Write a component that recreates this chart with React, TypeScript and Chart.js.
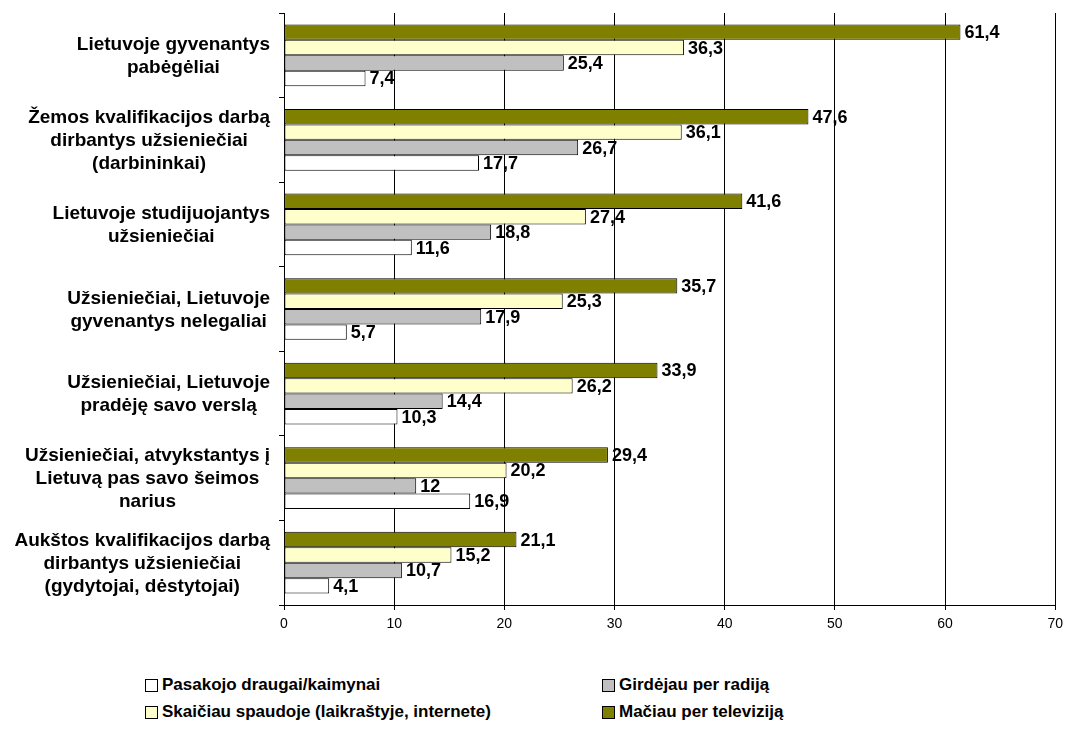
import React, { useEffect, useRef } from "react";
import { Chart, registerables } from "chart.js";

Chart.register(...registerables);

const categories: string[][] = [
  ["Lietuvoje gyvenantys", "pabėgėliai"],
  ["Žemos kvalifikacijos darbą", "dirbantys užsieniečiai", "(darbininkai)"],
  ["Lietuvoje studijuojantys", "užsieniečiai"],
  ["Užsieniečiai, Lietuvoje", "gyvenantys nelegaliai"],
  ["Užsieniečiai, Lietuvoje", "pradėję savo verslą"],
  ["Užsieniečiai, atvykstantys į", "Lietuvą pas savo šeimos", "narius"],
  ["Aukštos kvalifikacijos darbą", "dirbantys užsieniečiai", "(gydytojai, dėstytojai)"],
];

const seriesNames = [
  "Mačiau per televiziją",
  "Skaičiau spaudoje (laikraštyje, internete)",
  "Girdėjau per radiją",
  "Pasakojo draugai/kaimynai",
];

const televizija = [61.4, 47.6, 41.6, 35.7, 33.9, 29.4, 21.1];
const spauda = [36.3, 36.1, 27.4, 25.3, 26.2, 20.2, 15.2];
const radijas = [25.4, 26.7, 18.8, 17.9, 14.4, 12, 10.7];
const draugai = [7.4, 17.7, 11.6, 5.7, 10.3, 16.9, 4.1];

const xTicks = [0, 10, 20, 30, 40, 50, 60, 70];

const colors = ["#808000", "#FFFFCC", "#C0C0C0", "#FFFFFF"];

const legendOrder = [
  { name: seriesNames[3], color: colors[3] },
  { name: seriesNames[2], color: colors[2] },
  { name: seriesNames[1], color: colors[1] },
  { name: seriesNames[0], color: colors[0] },
];

const FONT = '"Liberation Sans", Arial, sans-serif';

export default function App() {
  const ref = useRef<HTMLCanvasElement | null>(null);

  useEffect(() => {
    if (!ref.current) return;
    const labelsPlugin = {
      id: "customLabels",
      afterDraw(chart: any) {
        const ctx = chart.ctx;
        const yScale = chart.scales.y;
        ctx.save();
        ctx.fillStyle = "#000";
        ctx.font = `bold 19px ${FONT}`;
        ctx.textAlign = "center";
        ctx.textBaseline = "middle";
        const rightEdge = 270;
        const lh = 23;
        categories.forEach((lines, i) => {
          const cy = yScale.getPixelForValue(i);
          const w = Math.max(...lines.map((l) => ctx.measureText(l).width));
          const cx = rightEdge - w / 2;
          const startY = cy - ((lines.length - 1) * lh) / 2 + 1;
          lines.forEach((l, j) => ctx.fillText(l, cx, startY + j * lh));
        });
        // value labels
        ctx.font = `bold 18px ${FONT}`;
        ctx.textAlign = "left";
        chart.data.datasets.forEach((ds: any, di: number) => {
          const meta = chart.getDatasetMeta(di);
          meta.data.forEach((bar: any, i: number) => {
            const v = ds.data[i];
            const txt = String(v).replace(".", ",");
            ctx.fillText(txt, bar.x + 4, bar.y + 1);
          });
        });
        ctx.restore();
      },
    };

    const chart = new Chart(ref.current, {
      type: "bar",
      data: {
        labels: categories.map((c) => c.join(" ")),
        datasets: [televizija, spauda, radijas, draugai].map((d, i) => ({
          label: seriesNames[i],
          data: d,
          backgroundColor: colors[i],
          borderColor: "#000",
          borderWidth: 1,
          borderSkipped: false,
          categoryPercentage: 0.73,
          barPercentage: 1,
        })),
      },
      options: {
        indexAxis: "y",
        responsive: false,
        animation: false,
        events: [],
        layout: { padding: { top: 13, right: 11, left: 0, bottom: 0 } },
        plugins: {
          legend: { display: false },
          tooltip: { enabled: false },
        },
        scales: {
          x: {
            min: 0,
            max: 70,
            afterBuildTicks: (scale: any) => {
              scale.ticks = xTicks.map((v) => ({ value: v }));
            },
            afterFit: (scale: any) => {
              scale.height = 45;
            },
            grid: {
              color: "#000",
              lineWidth: 1,
              drawTicks: true,
              tickLength: 5,
            },
            border: { display: true, color: "#000", width: 1 },
            ticks: {
              color: "#000",
              font: { family: FONT, size: 14 },
              padding: 6,
              maxRotation: 0,
            },
          },
          y: {
            afterFit: (scale: any) => {
              scale.width = 284;
            },
            grid: {
              display: true,
              drawOnChartArea: false,
              drawTicks: true,
              tickLength: 5,
              color: "#000",
              offset: true,
            },
            border: { display: true, color: "#000", width: 1 },
            ticks: { display: false },
          },
        },
      },
      plugins: [labelsPlugin],
    } as any);
    return () => chart.destroy();
  }, []);

  const legendPos = [
    { left: 145, top: 685 },
    { left: 602, top: 685 },
    { left: 145, top: 712 },
    { left: 602, top: 712 },
  ];

  return (
    <div style={{ position: "absolute", left: 0, top: 0, width: 1069, height: 731, background: "#fff" }}>
      <canvas ref={ref} width={1069} height={650} style={{ display: "block" }} />
      {legendOrder.map((item, i) => (
        <div
          key={i}
          style={{
            position: "absolute",
            left: legendPos[i].left,
            top: legendPos[i].top - 11,
            height: 22,
            display: "flex",
            alignItems: "center",
            fontFamily: FONT,
            fontWeight: "bold",
            fontSize: 17,
            color: "#000",
            whiteSpace: "nowrap",
          }}
        >
          <span
            style={{
              display: "inline-block",
              width: 11,
              height: 11,
              border: "1px solid #000",
              background: item.color,
              marginRight: 4,
            }}
          />
          <span>{item.name}</span>
        </div>
      ))}
    </div>
  );
}
